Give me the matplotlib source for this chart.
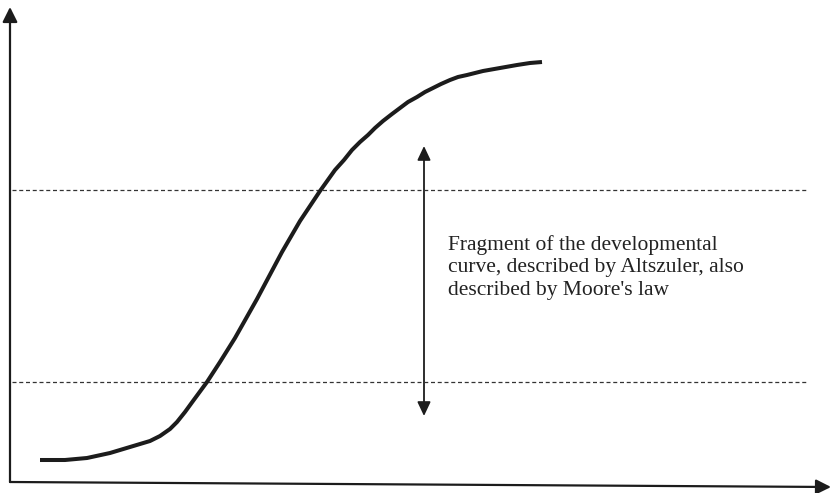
import matplotlib
matplotlib.use("Agg")
import matplotlib.pyplot as plt
from matplotlib.patches import FancyArrowPatch

# Schematic S-curve (units: drawing coordinates, y grows downward)
curve_x = [40, 65, 87, 110, 130, 150, 160, 170, 177, 185, 193, 207, 220, 235,
           257, 282, 300, 320, 335, 344, 352, 360, 368, 375, 383, 392, 400,
           408, 417, 425, 433, 441, 450, 458, 467, 475, 483, 500, 517, 530, 542]
curve_y = [460, 460, 458, 453, 447, 441, 436, 429, 422, 412, 401, 382, 362, 338,
           299, 252, 221, 191, 170, 160, 150, 142, 135, 128, 121, 114, 108,
           102, 97, 92, 88, 84, 80, 77, 75, 73, 71, 68, 65, 63, 62]

level_lines = [190, 382]           # dashed horizontal levels
level_span = (12, 808)
range_arrow_x = 424
range_arrow_y = (146, 416)
label_text = ("Fragment of the developmental\n"
              "curve, described by Altszuler, also\n"
              "described by Moore's law")

W, H = 832, 493
fig = plt.figure(figsize=(W / 100, H / 100), dpi=100)
ax = fig.add_axes([0, 0, 1, 1])
ax.set_xlim(0, W)
ax.set_ylim(H, 0)
ax.axis("off")

ink = "#1c1c1c"

def arrow(p0, p1, style, lw, hl=0.9, hw=0.45):
    a = FancyArrowPatch(p0, p1,
                        arrowstyle=f"{style},head_length={hl},head_width={hw}",
                        mutation_scale=10, lw=lw, color=ink,
                        shrinkA=0, shrinkB=0)
    ax.add_patch(a)

# axes
arrow((10, 482), (10, 7), "-|>", 1.6)
arrow((10, 482), (831, 487), "-|>", 1.6)

# dashed levels
for y in level_lines:
    ax.plot(level_span, [y, y], color="#333333", lw=0.9,
            dashes=(3.2, 2.2))

# S-curve
ax.plot(curve_x, curve_y, color=ink, lw=2.9, solid_capstyle="butt",
        solid_joinstyle="round")

# double arrow
arrow((range_arrow_x, range_arrow_y[1]), (range_arrow_x, range_arrow_y[0]),
      "<|-|>", 1.3, hl=0.85, hw=0.4)

ax.text(448, 235, label_text, fontsize=15.5, family="Liberation Serif",
        color="#222222", ha="left", va="top", linespacing=1.24)

fig.savefig("out.png", dpi=100)
